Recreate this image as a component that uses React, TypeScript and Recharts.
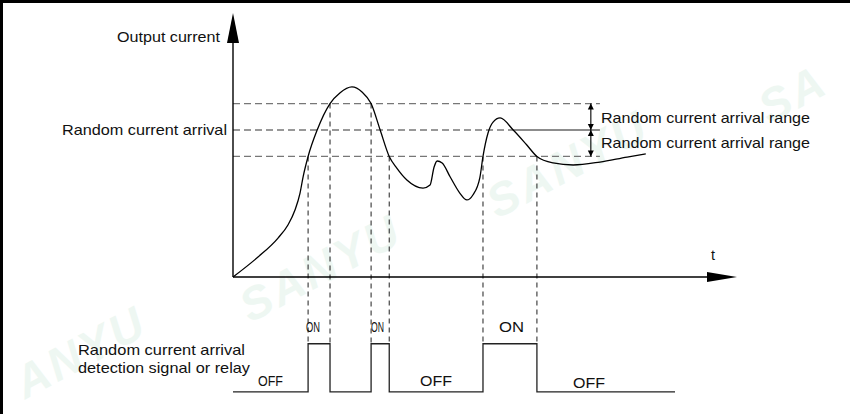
import React from 'react';
import { ComposedChart, Line, XAxis, YAxis, ReferenceDot } from 'recharts';

const W = 850;
const H = 414;

// Output current curve: time t (arbitrary units) and current (% of arrival level)
const curveT = [0, 4.96, 8.93, 10.9, 12.3, 13.3, 13.9, 14.9, 16.7, 19.25, 21.2, 23.6, 25.6, 27.4, 29.2, 31.0, 32.5, 34.5, 37.7, 39.1, 39.9, 40.5, 41.5, 43.1, 45.0, 46.4, 47.6, 49.0, 49.6, 50.6, 51.6, 53.0, 55.6, 58.3, 60.3, 63.5, 67.5, 72.8, 78.2, 81.9];
const curveI = [0, 13.6, 26.5, 35.4, 45.6, 57.1, 68.0, 82, 100, 118, 125.2, 129.3, 125.9, 118, 100, 82, 74.1, 66.0, 60.5, 62.6, 74.8, 78.9, 77.6, 68.0, 57.1, 52.4, 55.8, 68.0, 82, 98.0, 105.4, 108.2, 100, 89.8, 82, 77.6, 76.2, 78.2, 81.6, 83.7];

// Random current arrival level and its detection range
const arrivalLevel = 100;
const arrivalRange = 18;
const levelEndT = 72.8;
const midSolidStartT = 55.6;
const rangeArrowT = 71.0;

// Times at which the detection output switches, and the level crossed there
const toggleT = [14.9, 19.25, 27.4, 31.0, 49.6, 60.3];
const toggleLevel = [82, 118, 118, 82, 82, 82];

// Detection signal / relay state (0 = OFF, 1 = ON)
const signalT = [0, 14.9, 19.25, 27.4, 31.0, 49.6, 60.3, 87.7];
const signalState = [0, 1, 0, 1, 0, 1, 0, 0];

// Axis extents
const axisTopI = 179.6;
const axisEndT = 100;

// ---- layout (scales) ----
const X_DOMAIN: [number, number] = [-46.23, 122.42];
const Y_DOMAIN: [number, number] = [-93.2, 188.44];
const SIG_LOW = -78.2;
const SIG_HIGH = -45.4;

const curveData = curveT.map((t, i) => ({ t, v: curveI[i] }));
const upper = arrivalLevel + arrivalRange;
const lower = arrivalLevel - arrivalRange;
const upperLine = [{ t: 0, v: upper }, { t: levelEndT, v: upper }];
const lowerLine = [{ t: 0, v: lower }, { t: levelEndT, v: lower }];
const midDashed = [{ t: 0, v: arrivalLevel }, { t: midSolidStartT, v: arrivalLevel }];
const midSolid = [{ t: midSolidStartT, v: arrivalLevel }, { t: levelEndT, v: arrivalLevel }];
const signalData = signalT.map((t, i) => ({ t, v: SIG_LOW + signalState[i] * (SIG_HIGH - SIG_LOW) }));
const yAxisLine = [{ t: 0, v: 0 }, { t: 0, v: axisTopI - 10 }];
const xAxisLine = [{ t: 0, v: 0 }, { t: axisEndT - 3, v: 0 }];
const arrow1 = [{ t: rangeArrowT, v: upper }, { t: rangeArrowT, v: arrivalLevel }];
const arrow2 = [{ t: rangeArrowT, v: arrivalLevel }, { t: rangeArrowT, v: lower }];

const tri = (dir: 'up' | 'down' | 'right', w: number, h: number) => (p: any) => {
  const { cx, cy } = p;
  let pts = '';
  if (dir === 'up') pts = `${cx},${cy} ${cx - w},${cy + h} ${cx + w},${cy + h}`;
  else if (dir === 'down') pts = `${cx},${cy} ${cx - w},${cy - h} ${cx + w},${cy - h}`;
  else pts = `${cx},${cy} ${cx - h},${cy - w} ${cx - h},${cy + w}`;
  return <polygon points={pts} fill="#000" stroke="none" />;
};

const lineProps = {
  dataKey: 'v',
  dot: false,
  activeDot: false,
  isAnimationActive: false,
  xAxisId: 0,
  yAxisId: 0,
} as any;

const FONT = '"Liberation Sans", Arial, Helvetica, sans-serif';

const texts: { s: string; x: number; y: number; w?: number; fs?: number }[] = [
  { s: 'Output current', x: 117, y: 42, w: 103 },
  { s: 'Random current arrival', x: 62, y: 135, w: 165 },
  { s: 'Random current arrival range', x: 601, y: 123, w: 209 },
  { s: 'Random current arrival range', x: 601, y: 148, w: 209 },
  { s: 't', x: 711, y: 260 },
  { s: 'Random current arrival', x: 78, y: 355, w: 167 },
  { s: 'detection signal or relay', x: 78, y: 373, w: 172 },
  { s: 'ON', x: 306, y: 332, w: 14 },
  { s: 'ON', x: 371, y: 332, w: 13 },
  { s: 'ON', x: 499, y: 332, w: 25 },
  { s: 'OFF', x: 258, y: 386, w: 25 },
  { s: 'OFF', x: 420, y: 386, w: 32 },
  { s: 'OFF', x: 573, y: 388, w: 32 },
];

const marks = [
  { s: 'SANYU', x: 328, y: 282 },
  { s: 'SANYU', x: 575, y: 178 },
  { s: 'SA', x: 800, y: 108 },
  { s: 'ANYU', x: 88, y: 366 },
];

export default function App() {
  return (
    <div style={{ position: 'relative', width: W, height: H, background: '#fff', overflow: 'hidden' }}>
      <style>{`body{margin:0}`}</style>
      <svg width={W} height={H} style={{ position: 'absolute', left: 0, top: 0 }}>
        {marks.map((m, i) => (
          <text
            key={i}
            x={m.x}
            y={m.y}
            textAnchor="middle"
            transform={`rotate(-28 ${m.x} ${m.y})`}
            fontFamily={FONT}
            fontStyle="italic"
            fontWeight="bold"
            fontSize={46}
            letterSpacing={3}
            fill="#eef7f2"
          >
            {m.s}
          </text>
        ))}
      </svg>
      <div style={{ position: 'absolute', left: 0, top: 0 }}>
        <ComposedChart width={W} height={H} margin={{ top: 0, right: 0, bottom: 0, left: 0 }}>
          <XAxis xAxisId={0} type="number" dataKey="t" domain={X_DOMAIN} allowDataOverflow hide />
          <YAxis yAxisId={0} type="number" domain={Y_DOMAIN} allowDataOverflow hide />

          <Line {...lineProps} data={upperLine} stroke="#777" strokeWidth={1.3} strokeDasharray="7 4" type="linear" />
          <Line {...lineProps} data={midDashed} stroke="#777" strokeWidth={1.3} strokeDasharray="7 4" type="linear" />
          <Line {...lineProps} data={midSolid} stroke="#666" strokeWidth={1.3} type="linear" />
          <Line {...lineProps} data={lowerLine} stroke="#777" strokeWidth={1.3} strokeDasharray="7 4" type="linear" />

          {toggleT.map((t, i) => (
            <Line
              key={'tg' + i}
              {...lineProps}
              data={[{ t, v: toggleLevel[i] }, { t, v: SIG_HIGH }]}
              stroke="#333"
              strokeWidth={1.1}
              strokeDasharray="5 4"
              type="linear"
            />
          ))}

          <Line {...lineProps} data={yAxisLine} stroke="#000" strokeWidth={1.4} type="linear" />
          <Line {...lineProps} data={xAxisLine} stroke="#000" strokeWidth={1.4} type="linear" />
          <ReferenceDot x={0} y={axisTopI} r={1} ifOverflow="visible" shape={tri('up', 6, 30)} />
          <ReferenceDot x={axisEndT} y={0} r={1} ifOverflow="visible" shape={tri('right', 5, 30)} />

          <Line {...lineProps} data={arrow1} stroke="#000" strokeWidth={1.1} type="linear" />
          <Line {...lineProps} data={arrow2} stroke="#000" strokeWidth={1.1} type="linear" />
          <ReferenceDot x={rangeArrowT} y={upper} r={1} ifOverflow="visible" shape={tri('up', 3, 6)} />
          <ReferenceDot x={rangeArrowT} y={arrivalLevel} r={1} ifOverflow="visible" shape={tri('down', 3, 6)} />
          <ReferenceDot x={rangeArrowT} y={arrivalLevel} r={1} ifOverflow="visible" shape={tri('up', 3, 6)} />
          <ReferenceDot x={rangeArrowT} y={lower} r={1} ifOverflow="visible" shape={tri('down', 3, 6)} />

          <Line {...lineProps} data={curveData} stroke="#000" strokeWidth={1.3} type="monotone" />
          <Line {...lineProps} data={signalData} stroke="#222" strokeWidth={1.3} type="stepAfter" />
        </ComposedChart>
      </div>
      <svg width={W} height={H} style={{ position: 'absolute', left: 0, top: 0, pointerEvents: 'none' }}>
        <line x1={0} y1={1.5} x2={W} y2={1.5} stroke="#000" strokeWidth={3} />
        <line x1={1.5} y1={0} x2={1.5} y2={H} stroke="#000" strokeWidth={3} />
        {texts.map((t, i) => (
          <text
            key={i}
            x={t.x}
            y={t.y}
            fontFamily={FONT}
            fontSize={t.fs ?? 14.5}
            fill="#111"
            {...(t.w ? { textLength: t.w, lengthAdjust: 'spacingAndGlyphs' } : {})}
          >
            {t.s}
          </text>
        ))}
      </svg>
    </div>
  );
}
